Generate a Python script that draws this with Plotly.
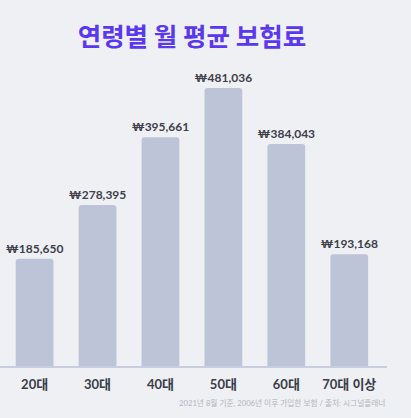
import plotly.graph_objects as go

ages = ["20대", "30대", "40대", "50대", "60대", "70대 이상"]
premiums = [185650, 278395, 395661, 481036, 384043, 193168]
labels = ["₩{:,}".format(v) for v in premiums]

title_text = "연령별 월 평균 보험료"
source_text = "2021년 8월 기준, 2006년 이후 가입한 보험 / 출처: 시그널플래너"

font_kr = "Lato, Noto Sans CJK KR, sans-serif"

fig = go.Figure(
    go.Bar(
        x=ages,
        y=premiums,
        text=labels,
        textposition="outside",
        constraintext="none",
        textfont=dict(family=font_kr, size=12, color="#3d3f4b", weight="bold"),
        marker=dict(color="#bec4d7", line=dict(width=0), cornerradius=3),
        width=0.6,
        cliponaxis=False,
        hoverinfo="skip",
    )
)

fig.update_layout(
    width=411,
    height=418,
    paper_bgcolor="#eff0f4",
    plot_bgcolor="#eff0f4",
    margin=dict(l=0, r=24, t=60, b=52),
    showlegend=False,
    title=dict(
        text=title_text,
        x=0.467,
        xanchor="center",
        y=0.911,
        yanchor="middle",
        font=dict(family="Noto Sans CJK KR", size=25.5, color="#5a38f0", weight="bold"),
    ),
    xaxis=dict(
        range=[-0.55, 5.6],
        showline=True,
        linecolor="#c9cde0",
        linewidth=1.5,
        showgrid=False,
        ticks="",
        ticklabelstandoff=6,
        tickfont=dict(family=font_kr, size=13, color="#3a3d48", weight="bold"),
    ),
    yaxis=dict(range=[0, 529500], visible=False, showgrid=False),
    annotations=[
        dict(
            text=source_text,
            xref="paper", yref="paper",
            x=1, y=-0.12,
            xanchor="right", yanchor="middle",
            showarrow=False,
            font=dict(family=font_kr, size=7.7, color="#b2b5c0"),
        )
    ],
)

# drop the default page margin so the chart sits flush in the window
fig.write_html(
    "out.html",
    config={"displayModeBar": False},
    post_script="document.body.style.margin='0';",
)
